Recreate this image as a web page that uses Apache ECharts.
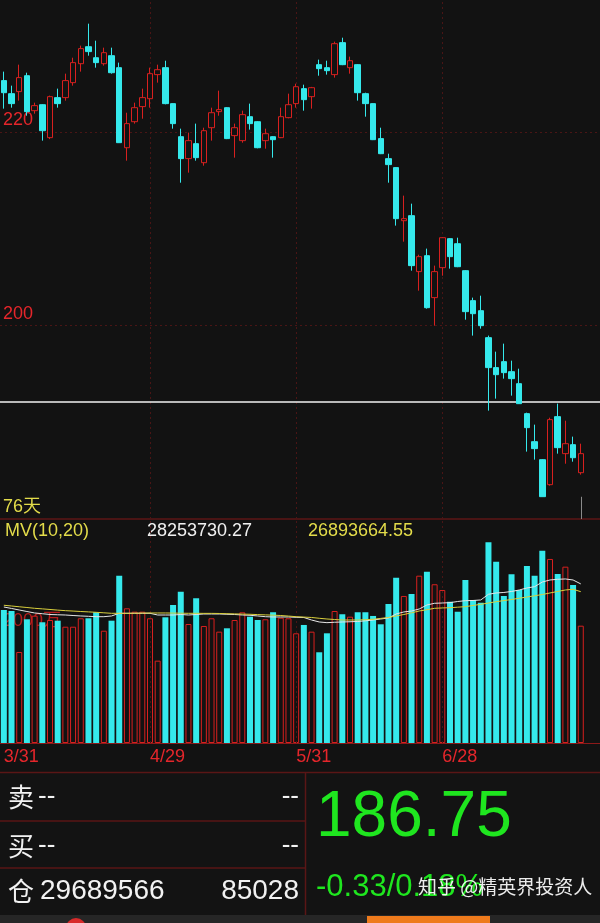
<!DOCTYPE html>
<html><head><meta charset="utf-8">
<script src="https://cdn.jsdelivr.net/npm/echarts/dist/echarts.min.js"></script>
<style>html,body{margin:0;padding:0;background:#121212;}#c{width:600px;height:923px;}</style>
</head><body><div id="c"></div>
<script>
const dates = ['3/31','4/1','4/6','4/7','4/8','4/11','4/12','4/13','4/14','4/15','4/18','4/19','4/20','4/21','4/22','4/25','4/26','4/27','4/28','4/29',
'5/5','5/6','5/9','5/10','5/11','5/12','5/13','5/16','5/17','5/18','5/19','5/20','5/23','5/24','5/25','5/26','5/27','5/30','5/31',
'6/1','6/2','6/6','6/7','6/8','6/9','6/10','6/13','6/14','6/15','6/16','6/17','6/20','6/21','6/22','6/23','6/24','6/27','6/28',
'6/29','6/30','7/1','7/4','7/5','7/6','7/7','7/8','7/11','7/12','7/13','7/14','7/15','7/18','7/19','7/20','7/21','7/22'];
const opens = [225.35,224.00,224.21,225.86,222.24,222.86,219.45,223.59,223.59,225.14,227.10,228.86,227.72,227.10,227.93,226.69,218.41,221.10,222.66,223.48,
225.97,226.69,222.97,219.55,217.28,218.83,216.86,220.48,222.14,222.55,219.66,219.14,221.62,221.10,219.14,219.55,219.45,221.52,222.97,224.52,
223.69,227.00,226.69,225.97,229.28,226.69,227.00,224.00,222.97,219.35,217.28,216.35,210.86,211.38,205.59,207.24,202.90,206.00,209.00,208.48,
205.69,202.59,201.55,198.76,195.66,196.28,195.24,194.00,190.90,188.00,186.14,183.55,190.59,186.76,187.69,184.79];
const closes = [224.10,222.97,225.66,222.14,222.76,220.17,223.69,222.97,225.35,227.21,228.66,228.35,227.21,228.24,226.17,218.93,220.90,222.55,223.59,226.07,
226.48,222.97,220.90,217.28,219.14,217.38,220.17,222.03,222.35,219.35,220.48,221.83,220.90,218.41,219.86,219.24,221.62,222.86,224.72,223.38,
224.62,226.59,226.38,229.17,227.00,227.41,224.10,222.97,219.24,217.79,216.66,211.07,211.07,206.21,207.14,201.86,205.59,209.10,207.14,206.10,
201.45,201.24,200.00,195.66,194.93,195.14,194.52,191.93,189.45,187.28,182.31,190.28,187.38,187.79,186.34,186.76];
const lows = [222.45,222.55,223.28,221.72,221.93,219.14,219.30,222.55,223.28,224.83,226.28,227.93,226.69,226.90,226.07,218.90,217.07,220.90,221.41,222.55,
225.14,222.90,220.38,214.79,215.83,217.07,216.55,219.14,221.72,219.30,217.38,218.93,220.28,218.35,218.31,217.38,219.40,221.45,222.55,222.24,
222.45,225.86,225.97,225.66,226.95,226.07,223.28,221.62,219.20,217.75,214.79,210.35,208.69,205.69,203.62,201.76,200.00,205.17,205.90,206.05,
200.62,198.97,199.69,191.21,192.45,194.52,192.76,191.90,186.97,186.14,182.30,183.45,186.76,185.72,185.93,184.59];
const highs = [226.28,224.83,227.00,226.17,223.07,222.90,223.80,224.52,226.07,227.72,228.97,231.24,229.48,228.76,228.76,227.21,222.03,223.07,224.52,226.69,
227.00,227.41,223.00,220.38,219.97,220.90,220.48,222.55,224.31,222.60,220.90,222.24,222.97,221.15,220.38,219.60,222.55,224.00,225.03,224.93,
224.70,227.52,227.41,229.38,229.79,227.83,227.05,224.10,223.00,220.48,217.79,216.40,213.45,212.62,207.34,207.97,206.21,209.15,209.05,209.10,
205.75,202.90,203.10,198.97,197.31,198.14,196.38,195.55,191.00,189.76,186.20,190.48,191.93,190.17,188.52,187.79];
// volume in 万
const volumes = [2362,2344,1616,2197,2261,2144,2184,2172,2065,2065,2215,2215,2321,1994,2172,2971,2392,2332,2332,2215,
1462,2232,2451,2687,2113,2570,2078,2215,1977,2037,2184,2321,2243,2184,2197,2321,2225,2215,1948,2096,
1977,1611,1948,2344,2286,2243,2321,2321,2256,2108,2469,2936,2611,2646,2971,3042,2819,2717,2509,2332,
2895,2540,2492,3564,3220,2611,2996,2717,3144,2971,3415,3268,3001,3131,2806,2083];
const ma10 = [2415,2389,2362,2335,2309,2296,2282,2277,2273,2264,2256,2250,2243,2243,2256,2303,2303,2303,2303,2303,
2273,2273,2273,2282,2273,2282,2291,2291,2291,2286,2282,2273,2268,2256,2243,2238,2238,2238,2232,2229,
2184,2149,2137,2144,2149,2153,2158,2170,2184,2202,2220,2291,2327,2344,2380,2451,2481,2486,2492,2513,
2527,2531,2540,2641,2664,2673,2691,2717,2753,2776,2859,2895,2907,2913,2895,2825];
const ma20 = [2446,2433,2419,2406,2392,2382,2371,2360,2350,2343,2335,2328,2321,2312,2303,2303,2303,2305,2307,2309,
2309,2309,2307,2305,2303,2303,2302,2302,2300,2296,2293,2289,2286,2280,2275,2270,2264,2254,2243,2236,
2229,2215,2202,2193,2184,2184,2184,2190,2197,2213,2229,2256,2282,2312,2344,2367,2392,2398,2403,2412,
2421,2442,2463,2486,2509,2529,2549,2570,2593,2614,2637,2664,2691,2717,2730,2687];
const priceTicks = [200, 220];
const dateTicks = ['3/31','4/29','5/31','6/28'];
const volTick = 2000;
const refPrice = 192.1;
const markerTop = 182.3;
const texts = {
  days: '76天', mv: 'MV(10,20)', ma10: '28253730.27', ma20: '26893664.55',
  sell: '卖', buy: '买', pos: '仓', dash: '--', posVal: '29689566', posChg: '85028',
  last: '186.75', chg: '-0.33/0.18%', mark: '知乎 @精英界投资人'
};

const RED = '#d8201f', CYAN = '#35e9ec', BG = '#121212', LRED = '#e5262b';
const GRIDC = '#4a1515';
const FF = "'Liberation Sans','Noto Sans CJK SC',sans-serif";
const CJK = "'Noto Sans CJK SC',sans-serif";
const axisCats = dates.concat(['', '']);
const candleData = dates.map((d, i) => [opens[i], closes[i], lows[i], highs[i]]);
const volData = volumes.map((v, i) => ({
  value: v,
  itemStyle: closes[i] >= opens[i]
    ? { color: BG, borderColor: RED, borderWidth: 1 }
    : { color: CYAN, borderWidth: 0 }
}));
const dashStyle = { color: GRIDC, type: [2, 3], width: 1 };
const vLines = dateTicks.slice(1).map(d => ({ xAxis: d, lineStyle: dashStyle }));
const hLines = priceTicks.map(p => ({ yAxis: p, lineStyle: dashStyle }));

const chart = echarts.init(document.getElementById('c'), null, { renderer: 'canvas' });
chart.setOption({
  backgroundColor: BG,
  animation: false,
  grid: [
    { left: 0, top: 0, width: 600, height: 519 },
    { left: 0, top: 520, width: 600, height: 223 }
  ],
  xAxis: [
    { type: 'category', gridIndex: 0, data: axisCats,
      axisLine: { show: true, lineStyle: { color: '#5e1616', width: 1.5 } },
      axisTick: { show: false }, axisLabel: { show: false }, splitLine: { show: false } },
    { type: 'category', gridIndex: 1, data: axisCats,
      axisLine: { show: true, lineStyle: { color: '#8c1a1a', width: 1 } },
      axisTick: { show: false }, splitLine: { show: false },
      axisLabel: { interval: (idx, v) => dateTicks.indexOf(v) >= 0, align: 'left', color: LRED,
        fontSize: 18, margin: 5, fontFamily: FF } }
  ],
  yAxis: [
    { type: 'value', gridIndex: 0, min: 180, max: 233.69, interval: 20,
      axisLine: { show: false }, axisTick: { show: false },
      axisLabel: { inside: true, margin: 3, verticalAlign: 'bottom', padding: [0, 0, 3, 0],
        color: LRED, fontSize: 18, fontFamily: FF,
        formatter: v => priceTicks.indexOf(v) >= 0 ? String(v) : '' },
      splitLine: { show: false } },
    { type: 'value', gridIndex: 1, min: 0, max: 3960, interval: 1000,
      axisLine: { show: false }, axisTick: { show: false }, splitLine: { show: false },
      axisLabel: { inside: true, margin: 3, verticalAlign: 'bottom', color: '#b41c1c', fontSize: 18,
        fontFamily: FF, formatter: v => v === volTick ? v + '万' : '' } }
  ],
  series: [
    { type: 'candlestick', xAxisIndex: 0, yAxisIndex: 0, data: candleData, barWidth: 6,
      itemStyle: { color: BG, color0: CYAN, borderColor: RED, borderColor0: CYAN, borderWidth: 1 },
      markLine: { silent: true, symbol: 'none', label: { show: false }, z: 1,
        data: vLines.concat(hLines).concat([
          { yAxis: refPrice, lineStyle: { color: '#f2f2f2', type: 'solid', width: 1.5 } },
          [{ coord: [dates[dates.length - 1], markerTop], lineStyle: { color: '#8a8a8a', type: 'solid', width: 1 } },
           { coord: [dates[dates.length - 1], 180] }]
        ]) } },
    { type: 'bar', xAxisIndex: 1, yAxisIndex: 1, data: volData, barWidth: 6,
      markLine: { silent: true, symbol: 'none', label: { show: false }, data: vLines } },
    { type: 'line', xAxisIndex: 1, yAxisIndex: 1, data: ma10, showSymbol: false, z: 5,
      lineStyle: { color: '#e6e6e6', width: 1 } },
    { type: 'line', xAxisIndex: 1, yAxisIndex: 1, data: ma20, showSymbol: false, z: 5,
      lineStyle: { color: '#d9cf3c', width: 1 } }
  ],
  graphic: [
    { type: 'text', left: 3, top: 498, style: { text: texts.days, fill: '#e3dc4a', font: '18px ' + FF } },
    { type: 'text', left: 5, top: 522, style: { text: texts.mv, fill: '#e3dc4a', font: '18px ' + FF } },
    { type: 'text', left: 147, top: 522, style: { text: texts.ma10, fill: '#f0f0f0', font: '18px ' + FF } },
    { type: 'text', left: 308, top: 522, style: { text: texts.ma20, fill: '#e3dc4a', font: '18px ' + FF } },
    { type: 'rect', shape: { x: 0, y: 772, width: 600, height: 143 }, style: { fill: '#131313' }, z: 10 },
    { type: 'line', shape: { x1: 0, y1: 772.5, x2: 600, y2: 772.5 }, style: { stroke: '#5a1616', lineWidth: 1.5 }, z: 11 },
    { type: 'line', shape: { x1: 305.5, y1: 772, x2: 305.5, y2: 915 }, style: { stroke: '#5a1616', lineWidth: 1.5 }, z: 11 },
    { type: 'line', shape: { x1: 0, y1: 821, x2: 305, y2: 821 }, style: { stroke: '#5a1616', lineWidth: 1.5 }, z: 11 },
    { type: 'line', shape: { x1: 0, y1: 868, x2: 305, y2: 868 }, style: { stroke: '#5a1616', lineWidth: 1.5 }, z: 11 },
    { type: 'rect', shape: { x: 0, y: 915, width: 600, height: 8 }, style: { fill: '#262626' }, z: 11 },
    { type: 'rect', shape: { x: 367, y: 916, width: 123, height: 7 }, style: { fill: '#ee7a1c' }, z: 12 },
    { type: 'circle', shape: { cx: 76, cy: 928, r: 10 }, style: { fill: '#d82a2a' }, z: 12 },
    { type: 'text', x: 8, y: 797, style: { text: texts.sell, fill: '#f2f2f2', font: '26px ' + CJK, verticalAlign: 'middle' }, z: 12 },
    { type: 'text', x: 38, y: 797, style: { text: texts.dash, fill: '#f2f2f2', font: '26px ' + FF, verticalAlign: 'middle' }, z: 12 },
    { type: 'text', x: 299, y: 797, style: { text: texts.dash, fill: '#f2f2f2', font: '26px ' + FF, align: 'right', verticalAlign: 'middle' }, z: 12 },
    { type: 'text', x: 8, y: 846, style: { text: texts.buy, fill: '#f2f2f2', font: '26px ' + CJK, verticalAlign: 'middle' }, z: 12 },
    { type: 'text', x: 38, y: 846, style: { text: texts.dash, fill: '#f2f2f2', font: '26px ' + FF, verticalAlign: 'middle' }, z: 12 },
    { type: 'text', x: 299, y: 846, style: { text: texts.dash, fill: '#f2f2f2', font: '26px ' + FF, align: 'right', verticalAlign: 'middle' }, z: 12 },
    { type: 'text', x: 8, y: 891, style: { text: texts.pos, fill: '#f2f2f2', font: '26px ' + CJK, verticalAlign: 'middle' }, z: 12 },
    { type: 'text', x: 40, y: 891, style: { text: texts.posVal, fill: '#f2f2f2', font: '28px ' + FF, verticalAlign: 'middle' }, z: 12 },
    { type: 'text', x: 299, y: 891, style: { text: texts.posChg, fill: '#f2f2f2', font: '28px ' + FF, align: 'right', verticalAlign: 'middle' }, z: 12 },
    { type: 'text', x: 316, y: 818, style: { text: texts.last, fill: '#1fe61f', font: '64px ' + FF, verticalAlign: 'middle' }, z: 12 },
    { type: 'text', x: 316, y: 887, style: { text: texts.chg, fill: '#1fe61f', font: '31px ' + FF, verticalAlign: 'middle' }, z: 12 },
    { type: 'text', x: 418, y: 887, style: { text: texts.mark, fill: 'rgba(255,255,255,0.92)', font: '19px ' + CJK, verticalAlign: 'middle' }, z: 13 }
  ]
});
</script></body></html>
